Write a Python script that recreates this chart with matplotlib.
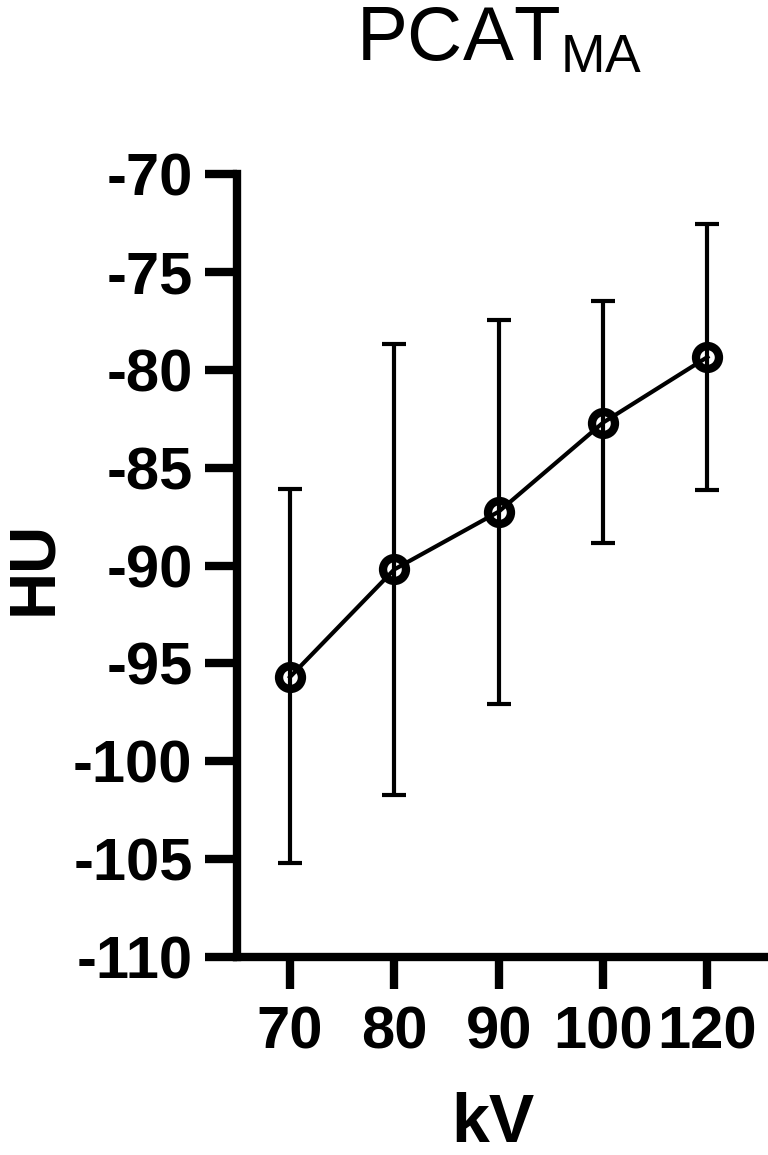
import numpy as np
import matplotlib
matplotlib.use("Agg")
import matplotlib.pyplot as plt

plt.rcParams['font.family'] = ['Liberation Sans', 'DejaVu Sans']
plt.rcParams['mathtext.fontset'] = 'custom'
plt.rcParams['mathtext.rm'] = 'Liberation Sans'
plt.rcParams['axes.unicode_minus'] = False

# data
kv_labels = ['70', '80', '90', '100', '120']
hu_mean = [-95.7, -90.2, -87.25, -82.7, -79.35]
hu_upper = [-86.1, -78.7, -77.45, -76.5, -72.55]
hu_lower = [-105.2, -101.7, -97.1, -88.85, -86.15]

x = np.arange(len(kv_labels))
mean = np.array(hu_mean)
err = [mean - np.array(hu_lower), np.array(hu_upper) - mean]

fig = plt.figure(figsize=(7.68, 11.55), dpi=100)
ax = fig.add_axes([237 / 768, 1 - 957 / 1155, 1 - 237 / 768, (957 - 174) / 1155])

ax.errorbar(x, mean, yerr=err, fmt='none', ecolor='black', elinewidth=3,
            capsize=8.5, capthick=3, zorder=2)
ax.plot(x, mean, color='black', linewidth=3, marker='o', markersize=16.5,
        markerfacecolor='none', markeredgecolor='black', markeredgewidth=6,
        zorder=3)

ax.set_xlim(-0.507, 4.58)
ax.set_ylim(-110, -70)
ax.set_yticks(np.arange(-110, -69, 5))
ax.set_xticks(x)
ax.set_xticklabels(kv_labels)

for s in ['top', 'right']:
    ax.spines[s].set_visible(False)
for s in ['left', 'bottom']:
    ax.spines[s].set_linewidth(6)
ax.tick_params(axis='both', length=23, width=6, labelsize=43)
ax.tick_params(axis='x', pad=12)
ax.tick_params(axis='y', pad=9)
for lab in ax.get_xticklabels() + ax.get_yticklabels():
    lab.set_fontweight('bold')

fig.text(499 / 768, 1 - 60 / 1155, r'PCAT$_{\mathregular{MA}}$', fontsize=55,
         ha='center', va='baseline')
fig.text(34 / 768, 1 - 568 / 1155, 'HU', fontsize=47, fontweight='bold',
         rotation=90, ha='center', va='center')
fig.text(493 / 768, 1 - 1142 / 1155, 'kV', fontsize=49, fontweight='bold',
         ha='center', va='baseline')

fig.savefig('out.png', dpi=100)
